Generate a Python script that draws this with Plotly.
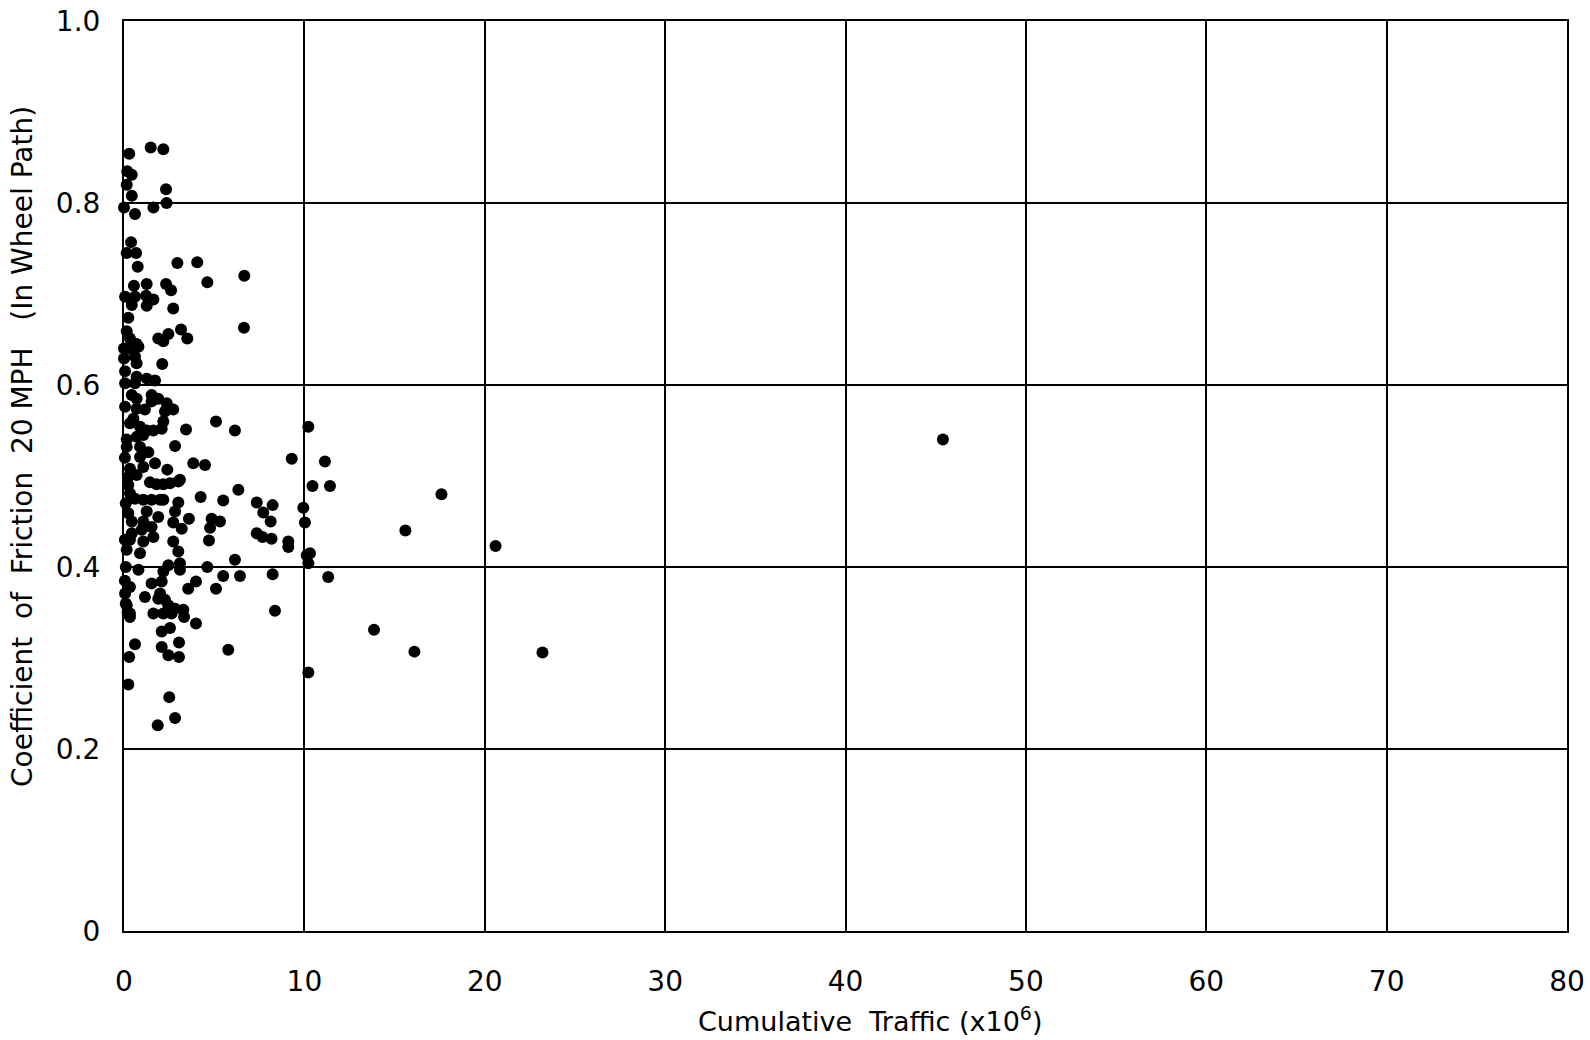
import plotly.graph_objects as go

# Cumulative traffic (x10^6)
traffic = [
    1.48, 2.18, 0.29, 0.18, 0.43, 0.15, 2.33, 0.43, 2.36, 0.0, 1.63, 0.61, 0.39, 0.15, 0.67, 0.76,
    2.96, 4.06, 6.67, 4.62, 0.55, 1.26, 2.33, 2.61, 0.06, 0.61, 1.22, 1.63, 0.43, 1.26, 2.73, 0.24,
    6.65, 3.16, 3.51, 1.90, 2.46, 2.18, 0.15, 0.33, 0.70, 0.0, 0.33, 0.80,
    0.0, 0.61, 0.70, 2.12, 0.06, 0.70, 1.26, 1.72, 0.06, 0.61, 1.53, 1.90, 1.53, 0.43, 0.70, 2.37,
    2.73, 2.27, 0.06, 0.70, 1.16, 5.10, 6.15, 3.44, 2.18, 2.09, 1.26, 1.63, 0.33, 0.52, 0.89, 1.07,
    0.70, 2.83, 0.15, 0.15, 0.89, 1.35, 0.89, 9.30, 1.72, 1.07, 3.84, 4.49, 2.40, 0.33, 0.24, 0.70,
    1.44, 1.81, 2.18, 2.55, 3.01, 3.10, 0.24, 0.33, 6.34, 10.22, 11.14, 10.45, 11.42, 4.25, 5.50,
    0.61, 1.07, 1.53, 2.00, 2.18, 3.01, 7.36, 8.24, 7.72, 8.13, 9.94, 10.03, 0.24, 1.26, 1.90, 1.07,
    0.43, 2.83, 2.73, 3.60, 4.86, 5.32, 4.77, 3.20, 0.98, 1.53, 0.43, 4.71, 7.36, 7.68, 8.18, 9.11,
    9.11, 0.33, 1.07, 1.63, 2.73, 3.01, 0.15, 0.89, 10.31, 6.15,
    10.13, 10.22, 4.62, 2.46, 2.18, 3.10, 3.10, 0.80, 5.50, 6.43, 8.24, 11.32, 0.33, 0.06, 1.53, 2.09,
    1.16, 3.56, 3.99, 5.10, 2.00, 2.27, 1.90, 0.15, 2.46, 2.83, 3.29, 0.33, 1.63, 2.18, 2.64, 3.33,
    0.33, 8.37, 3.99, 2.09, 2.55, 0.61, 3.05, 2.09, 5.78, 2.46, 3.05, 0.29, 10.22, 0.24, 2.51, 2.83,
    1.87,
    17.6, 15.6, 20.6, 23.2, 16.1, 13.86, 45.4,
    0.05, 0.10, 0.05, 0.10, 0.05, 0.10, 0.20,
]

# Coefficient of friction at 20 MPH
friction = [
    0.861, 0.859, 0.854, 0.835, 0.831, 0.820, 0.815, 0.808, 0.800, 0.795, 0.795, 0.788, 0.757, 0.745, 0.745, 0.730,
    0.734, 0.735, 0.720, 0.713, 0.709, 0.711, 0.711, 0.704, 0.697, 0.697, 0.698, 0.694, 0.688, 0.687, 0.684, 0.674,
    0.663, 0.661, 0.651, 0.651, 0.656, 0.648, 0.659, 0.651, 0.645, 0.640, 0.640, 0.642,
    0.629, 0.631, 0.624, 0.623, 0.615, 0.609, 0.607, 0.605, 0.602, 0.602, 0.589, 0.585, 0.582, 0.589, 0.585, 0.580,
    0.573, 0.571, 0.576, 0.574, 0.573, 0.560, 0.550, 0.551, 0.560, 0.552, 0.550, 0.550, 0.558, 0.563, 0.554, 0.545,
    0.543, 0.533, 0.540, 0.532, 0.532, 0.526, 0.521, 0.519, 0.514, 0.510, 0.514, 0.512, 0.507, 0.508, 0.499, 0.501,
    0.493, 0.491, 0.491, 0.492, 0.494, 0.496, 0.490, 0.481, 0.485, 0.554, 0.516, 0.489, 0.489, 0.477, 0.473,
    0.475, 0.474, 0.474, 0.474, 0.474, 0.471, 0.471, 0.468, 0.460, 0.450, 0.465, 0.449, 0.459, 0.461, 0.455, 0.450,
    0.450, 0.461, 0.449, 0.453, 0.453, 0.450, 0.443, 0.442, 0.441, 0.444, 0.437, 0.429, 0.437, 0.433, 0.431, 0.428,
    0.422, 0.430, 0.428, 0.433, 0.428, 0.417, 0.419, 0.415, 0.415, 0.408,
    0.413, 0.404, 0.400, 0.402, 0.395, 0.397, 0.404, 0.397, 0.390, 0.390, 0.392, 0.389, 0.378, 0.371, 0.382, 0.384,
    0.367, 0.376, 0.384, 0.376, 0.371, 0.364, 0.365, 0.358, 0.358, 0.354, 0.353, 0.349, 0.349, 0.349, 0.349, 0.345,
    0.345, 0.352, 0.338, 0.329, 0.333, 0.315, 0.317, 0.312, 0.309, 0.303, 0.301, 0.301, 0.284, 0.271, 0.257, 0.234,
    0.226,
    0.480, 0.440, 0.423, 0.306, 0.307, 0.331, 0.540,
    0.520, 0.470, 0.430, 0.400, 0.385, 0.360, 0.350,
]

x_ticks = [0, 10, 20, 30, 40, 50, 60, 70, 80]
x_tick_labels = ["0", "10", "20", "30", "40", "50", "60", "70", "80"]
y_ticks = [0, 0.2, 0.4, 0.6, 0.8, 1.0]
y_tick_labels = ["0", "0.2", "0.4", "0.6", "0.8", "1.0"]

FONT = "DejaVu Sans"

fig = go.Figure()
fig.add_trace(go.Scatter(
    x=traffic, y=friction, mode="markers",
    marker=dict(color="black", size=12, line=dict(width=0)),
    cliponaxis=False, showlegend=False,
))

axis_common = dict(
    showgrid=True, gridcolor="black", gridwidth=2,
    showline=True, linecolor="black", linewidth=2, mirror=True,
    zeroline=False, ticks="", automargin=False,
    tickfont=dict(family=FONT, size=28, color="black"),
)

fig.update_layout(
    width=1590, height=1040,
    margin=dict(l=124, r=23, t=21, b=109, autoexpand=False),
    paper_bgcolor="white", plot_bgcolor="white",
    xaxis=dict(range=[0, 80], tickvals=x_ticks, ticktext=x_tick_labels,
               ticklabelstandoff=24, **axis_common),
    yaxis=dict(range=[0, 1.0], tickvals=y_ticks, ticktext=y_tick_labels,
               ticklabelstandoff=16, **axis_common),
    annotations=[
        dict(text="Cumulative  Traffic (x10<sup>6</sup>)", xref="paper", yref="paper",
             x=0.517, y=-0.097, xanchor="center", yanchor="middle", showarrow=False,
             font=dict(family=FONT, size=27, color="black")),
        dict(text="Coefficient  of  Friction  20 MPH   (In Wheel Path)", xref="paper", yref="paper",
             x=-0.07, y=0.533, xanchor="center", yanchor="middle", showarrow=False,
             textangle=-90, font=dict(family=FONT, size=28, color="black")),
    ],
)

fig.write_html("out.html")
